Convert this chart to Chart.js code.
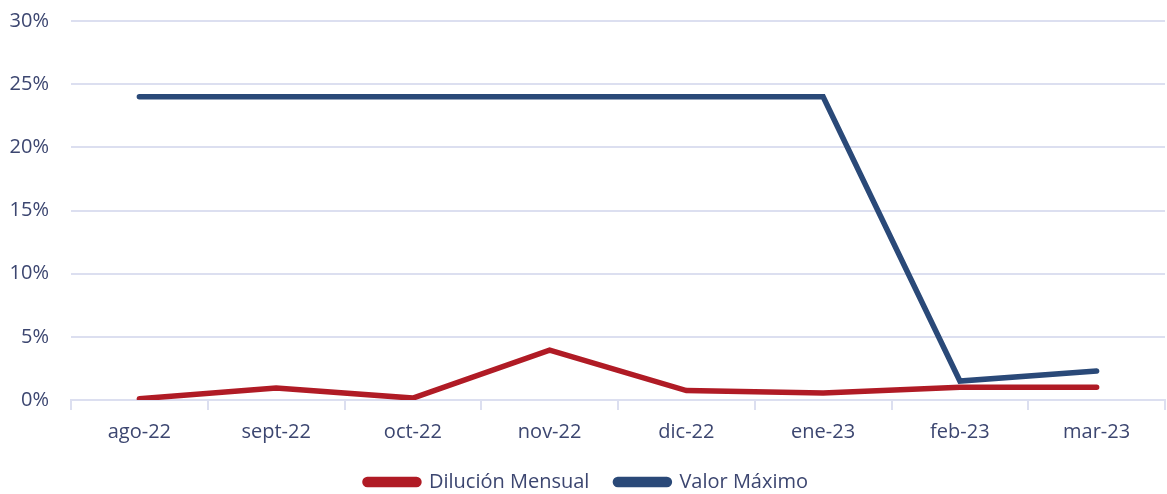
<!DOCTYPE html>
<html>
<head>
<meta charset="utf-8">
<script src="https://cdn.jsdelivr.net/npm/chart.js@4"></script>
<style>
  html, body { margin: 0; padding: 0; background: #ffffff; }
  #wrap { width: 1167px; height: 494px; }
</style>
</head>
<body>
<div id="wrap"><canvas id="canvas"></canvas></div>
<script>
// categories and series (percent)
var months = ['ago-22', 'sept-22', 'oct-22', 'nov-22', 'dic-22', 'ene-23', 'feb-23', 'mar-23'];
var dilucionMensual = [0.1, 0.95, 0.15, 3.95, 0.75, 0.55, 1.0, 1.0];
var valorMaximo = [24, 24, 24, 24, 24, 24, 1.5, 2.3];
var yTicks = [0, 5, 10, 15, 20, 25, 30];

var textColor = '#3c4670';
var gridColor = '#dcdff0';
var fontFam = 'Open Sans';

var ctx = document.getElementById('canvas').getContext('2d');
var chart = new Chart(ctx, {
    type: 'line',
    data: {
        labels: months,
        datasets: [{
            label: 'Dilución Mensual',
            data: dilucionMensual,
            borderColor: '#b01b25',
            backgroundColor: '#b01b25',
            borderWidth: 5.5,
            pointRadius: 0,
            borderCapStyle: 'round',
            tension: 0
        }, {
            label: 'Valor Máximo',
            data: valorMaximo,
            borderColor: '#2a4978',
            backgroundColor: '#2a4978',
            borderWidth: 5.5,
            pointRadius: 0,
            borderCapStyle: 'round',
            tension: 0
        }]
    },
    options: {
        responsive: true,
        maintainAspectRatio: false,
        animation: false,
        layout: { padding: { top: 21, right: 2, left: 8, bottom: -8 } },
        plugins: {
            tooltip: { enabled: false },
            legend: {
                position: 'bottom',
                labels: {
                    color: textColor,
                    font: { family: fontFam, size: 20 },
                    boxWidth: 54,
                    boxHeight: 5,
                    padding: 26,
                    useBorderRadius: true,
                    borderRadius: 2.5
                }
            }
        },
        scales: {
            x: {
                offset: true,
                afterFit: function (scale) {
                    scale.height -= 8;
                },
                grid: {
                    offset: true,
                    drawOnChartArea: false,
                    color: gridColor,
                    tickLength: 10,
                    lineWidth: 2
                },
                border: { color: gridColor, width: 2 },
                ticks: {
                    color: textColor,
                    font: { family: fontFam, size: 20 },
                    padding: 10
                }
            },
            y: {
                min: 0,
                max: 30,
                afterBuildTicks: function (scale) {
                    scale.ticks = yTicks.map(function (v) { return { value: v }; });
                },
                afterFit: function (scale) {
                    scale.width = 63;
                    scale.paddingTop = 0;
                    scale.paddingBottom = 0;
                },
                grid: { color: gridColor, lineWidth: 2, drawTicks: false },
                border: { display: false },
                ticks: {
                    color: textColor,
                    font: { family: fontFam, size: 20 },
                    padding: 22,
                    callback: function (v) { return v + '%'; }
                }
            }
        }
    }
});
</script>
</body>
</html>
